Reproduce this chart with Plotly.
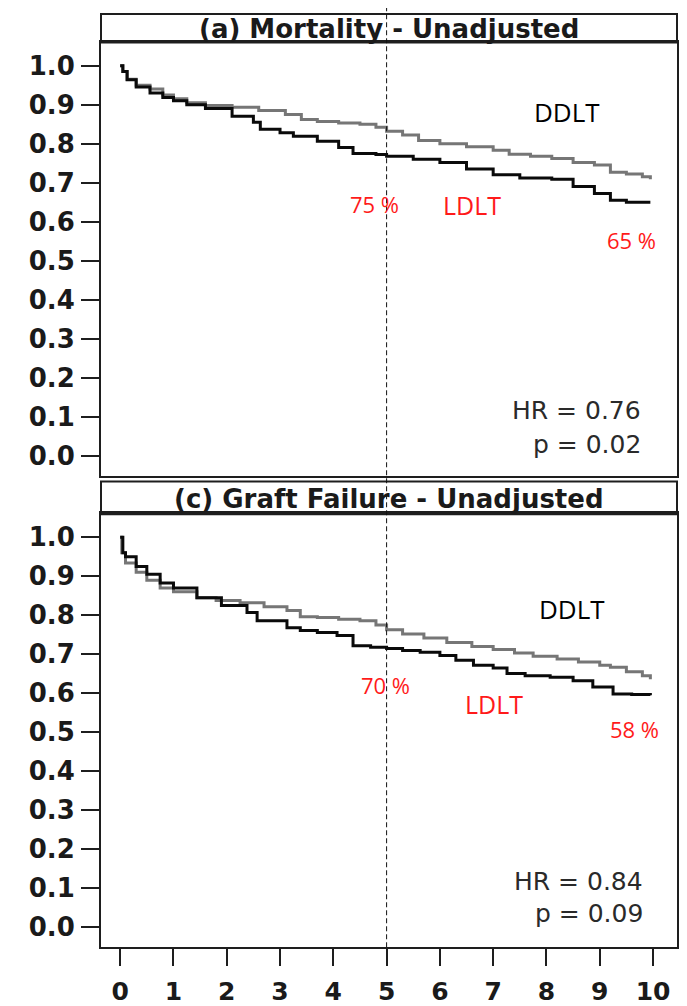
import plotly.graph_objects as go

# ---------------- data ----------------
years_ticks = [0, 1, 2, 3, 4, 5, 6, 7, 8, 9, 10]
y_ticks = [0.0, 0.1, 0.2, 0.3, 0.4, 0.5, 0.6, 0.7, 0.8, 0.9, 1.0]

# (a) Mortality - Unadjusted
mort_ddlt_t = [0, 0.05, 0.13, 0.3, 0.56, 0.8, 1.0, 1.25, 1.6, 2.1, 2.6, 3.1, 3.4, 3.7, 4.1, 4.5,
               4.8, 5.0, 5.3, 5.6, 6.0, 6.5, 7.0, 7.3, 7.7, 8.1, 8.5, 8.9, 9.2, 9.5, 9.8, 9.95]
mort_ddlt_s = [1.0, 0.985, 0.965, 0.95, 0.94, 0.925, 0.915, 0.905, 0.898, 0.893, 0.885, 0.875, 0.862,
               0.857, 0.853, 0.85, 0.842, 0.832, 0.822, 0.808, 0.8, 0.792, 0.783, 0.773, 0.768, 0.762,
               0.752, 0.745, 0.727, 0.722, 0.715, 0.709]
mort_ldlt_t = [0, 0.05, 0.13, 0.3, 0.56, 0.8, 1.0, 1.25, 1.6, 2.1, 2.5, 2.63, 3.0, 3.25, 3.7, 4.1,
               4.37, 4.8, 5.0, 5.5, 6.0, 6.5, 7.0, 7.5, 8.1, 8.5, 8.9, 9.2, 9.5, 9.95]
mort_ldlt_s = [1.0, 0.985, 0.964, 0.945, 0.93, 0.918, 0.91, 0.9, 0.89, 0.87, 0.855, 0.837, 0.828,
               0.819, 0.806, 0.79, 0.775, 0.772, 0.768, 0.76, 0.752, 0.735, 0.72, 0.712, 0.709, 0.69,
               0.672, 0.655, 0.65, 0.65]

# (c) Graft Failure - Unadjusted
graft_ddlt_t = [0, 0.03, 0.1, 0.3, 0.5, 0.75, 1.0, 1.44, 1.8, 2.25, 2.7, 3.13, 3.38, 3.7, 4.1, 4.5,
                4.8, 5.0, 5.3, 5.7, 6.13, 6.6, 7.0, 7.4, 7.75, 8.2, 8.6, 9.0, 9.2, 9.5, 9.8, 9.95]
graft_ddlt_s = [1.0, 0.96, 0.934, 0.91, 0.89, 0.87, 0.86, 0.845, 0.838, 0.832, 0.822, 0.812, 0.796,
                0.794, 0.79, 0.786, 0.775, 0.763, 0.752, 0.742, 0.73, 0.72, 0.712, 0.703, 0.695, 0.688,
                0.68, 0.672, 0.667, 0.655, 0.645, 0.636]
graft_ldlt_t = [0, 0.05, 0.1, 0.3, 0.5, 0.75, 1.0, 1.44, 1.9, 2.38, 2.57, 3.13, 3.38, 3.7, 4.07, 4.37,
                4.7, 5.0, 5.3, 5.63, 6.0, 6.3, 6.63, 7.0, 7.26, 7.6, 8.07, 8.5, 8.87, 9.25, 9.6, 9.95]
graft_ldlt_s = [1.0, 0.96, 0.95, 0.925, 0.905, 0.883, 0.87, 0.845, 0.825, 0.807, 0.786, 0.768, 0.761,
                0.756, 0.748, 0.722, 0.718, 0.715, 0.71, 0.705, 0.697, 0.685, 0.672, 0.665, 0.651,
                0.645, 0.641, 0.632, 0.616, 0.598, 0.597, 0.595]

panel_titles = ["(a) Mortality - Unadjusted", "(c) Graft Failure - Unadjusted"]
hr_texts = ["HR = 0.76", "HR = 0.84"]
p_texts = ["p = 0.02", "p = 0.09"]
pct5_texts = ["75 %", "70 %"]
pct10_texts = ["65 %", "58 %"]

# ---------------- figure ----------------
# the page body has an 8px margin, so the figure origin sits at (8, 8) in the window
OFF = 8
W, H = 687 - OFF, 1006 - OFF
def py(p):
    return 1 - (p - OFF) / H
def px(p):
    return (p - OFF) / W

GRAY = "#767676"
BLACK = "#0a0a0a"
AX = "#1e1e1e"

fig = go.Figure()
for (t, s, col, ax) in [
    (mort_ddlt_t, mort_ddlt_s, GRAY, ("x", "y")),
    (mort_ldlt_t, mort_ldlt_s, BLACK, ("x", "y")),
    (graft_ddlt_t, graft_ddlt_s, GRAY, ("x2", "y2")),
    (graft_ldlt_t, graft_ldlt_s, BLACK, ("x2", "y2")),
]:
    fig.add_trace(go.Scatter(x=t, y=s, mode="lines", line=dict(color=col, width=3, shape="hv"),
                             xaxis=ax[0], yaxis=ax[1], showlegend=False, hoverinfo="skip"))

xdom = [px(101), px(677)]
xrange_ = [-0.36, 10.45]
yrange_ = [-0.051, 1.061]
tickfont = dict(family="DejaVu Sans", size=26, color="#1a1a1a", weight="bold")

common_y = dict(range=yrange_, tickvals=y_ticks, tickformat=".1f", ticks="outside", ticklen=18,
                tickwidth=2, tickcolor=AX, showline=True, linewidth=2, linecolor=AX, mirror=True,
                showgrid=False, zeroline=False, tickfont=tickfont, ticklabelstandoff=1)
fig.update_layout(
    width=W, height=H, margin=dict(l=0, r=0, t=0, b=0),
    paper_bgcolor="white", plot_bgcolor="white",
    xaxis=dict(domain=xdom, range=xrange_, anchor="y", showticklabels=False, ticks="",
               showline=True, linewidth=2, linecolor=AX, mirror=True, showgrid=False, zeroline=False),
    yaxis=dict(domain=[py(478), py(42)], anchor="x", **common_y),
    xaxis2=dict(domain=xdom, range=xrange_, anchor="y2", tickvals=years_ticks, ticks="outside",
                ticklen=17, tickwidth=2, tickcolor=AX, showline=True, linewidth=2, linecolor=AX,
                mirror=True, showgrid=False, zeroline=False,
                tickfont=dict(family="DejaVu Sans", size=25, color="#1a1a1a", weight="bold"),
                ticklabelstandoff=4),
    yaxis2=dict(domain=[py(952), py(516)], anchor="x2", **common_y),
)

# title strips
for (top, bot, title) in [(14, 42, panel_titles[0]), (484, 516, panel_titles[1])]:
    fig.add_shape(type="rect", xref="x domain", yref="paper", x0=0, x1=1, y0=py(bot), y1=py(top),
                  line=dict(color=AX, width=2), fillcolor="rgba(0,0,0,0)")
    fig.add_shape(type="line", xref="x domain", yref="paper", x0=0, x1=1, y0=py(bot), y1=py(bot),
                  line=dict(color=AX, width=3.5))
    fig.add_annotation(text=title, xref="x domain", yref="paper", x=0.5, y=py((top + bot) / 2 + 1),
                       showarrow=False, xanchor="center", yanchor="middle",
                       font=dict(family="DejaVu Sans", size=26, color="#1a1a1a", weight="bold"))

# dashed line at 5 years through both panels
fig.add_shape(type="line", xref="x2", yref="paper", x0=5, x1=5, y0=py(952), y1=1.0,
              line=dict(color="#111111", width=1, dash="5px,3px"))

# annotations in each panel
red = "#ff1a1a"
lab_font = "Open Sans"
panels = [
    dict(xr="x", yr="y", ddlt=(8.39, 0.880), p5=(4.78, 0.645), ldlt=(6.6, 0.643), p10=(9.59, 0.554),
         hr=(9.81, 0.115), pp=(9.81, 0.030)),
    dict(xr="x2", yr="y2", ddlt=(8.48, 0.817), p5=(4.97, 0.621), ldlt=(7.02, 0.573), p10=(9.66, 0.509),
         hr=(9.84, 0.117), pp=(9.84, 0.036)),
]
for i, pn in enumerate(panels):
    def ann(text, pos, color, size, family=lab_font, xanchor="center"):
        fig.add_annotation(text=text, x=pos[0], y=pos[1], xref=pn["xr"], yref=pn["yr"], showarrow=False,
                           xanchor=xanchor, yanchor="middle",
                           font=dict(family=family, size=size, color=color))
    ann("DDLT", pn["ddlt"], "#000000", 26)
    ann(pct5_texts[i], pn["p5"], red, 22)
    ann("LDLT", pn["ldlt"], red, 25)
    ann(pct10_texts[i], pn["p10"], red, 22)
    ann(hr_texts[i], pn["hr"], "#2a2a2a", 25, family="DejaVu Sans", xanchor="right")
    ann(p_texts[i], pn["pp"], "#2a2a2a", 25, family="DejaVu Sans", xanchor="right")

fig.write_html("out.html")
